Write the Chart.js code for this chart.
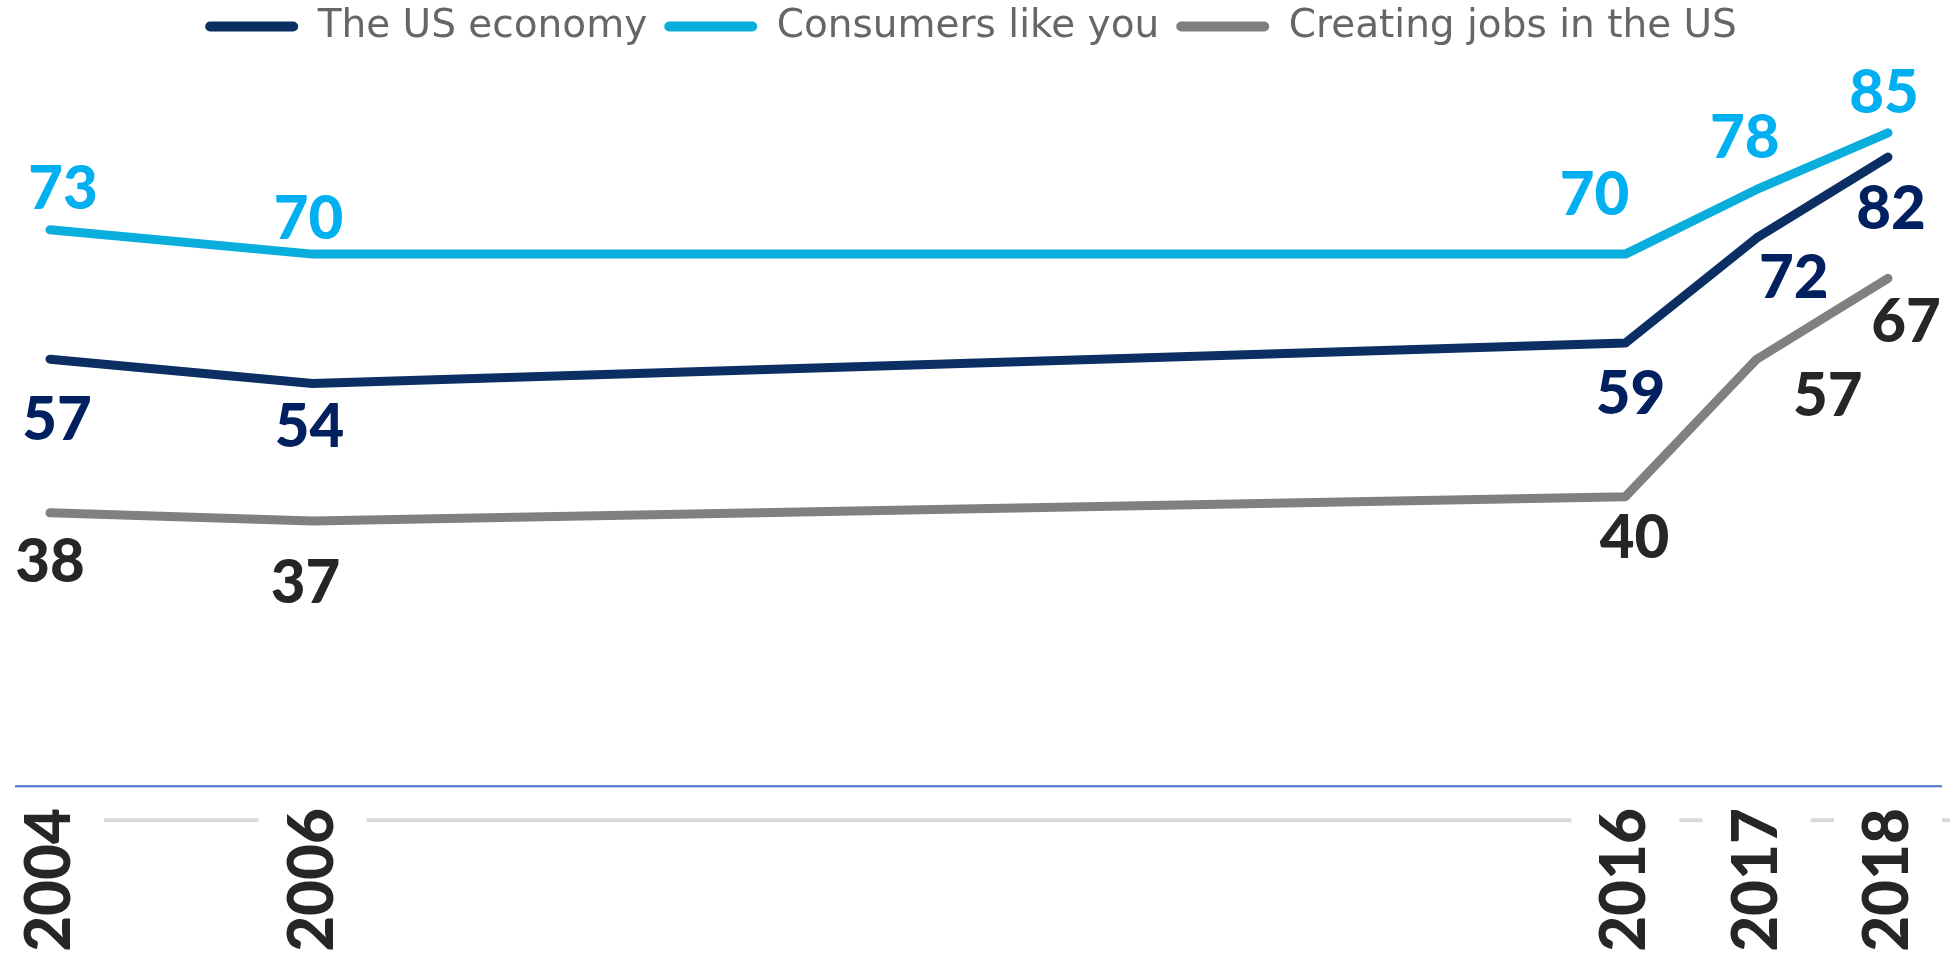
<!DOCTYPE html>
<html><head><meta charset="utf-8">
<script src="https://cdn.jsdelivr.net/npm/chart.js@4.4.1/dist/chart.umd.min.js"></script>
<style>html,body{margin:0;padding:0;background:#fff;} canvas{display:block;}</style>
</head><body>
<canvas id="c" width="1950" height="955"></canvas>
<script>
// ---- data ----
const years = [2004, 2006, 2016, 2017, 2018];
const seriesNames = ['The US economy', 'Consumers like you', 'Creating jobs in the US'];
const usEconomy = [57, 54, 59, 72, 82];
const consumers = [73, 70, 70, 78, 85];
const jobs = [38, 37, 40, 57, 67];
const yRange = [1.5, 94.5];

// ---- styles ----
const lineColors = ['#0b2f62', '#0aaedc', '#808080'];
const labelColors = ['#002060', '#00b0f0', '#262626'];
// label centre offsets from each point (px)
const labelOffsets = [
  [[7, 59], [-3, 42], [5, 49], [37, 38], [3, 50]],
  [[13, -42], [-4, -37], [-31, -61], [-12, -53], [-4, -41]],
  [[0, 48], [-7, 60], [9, 40], [71, 35], [18, 42]]
];
const valueFontSize = 60;

const seriesValues = [usEconomy, consumers, jobs];
const datasets = seriesValues.map((vals, i) => ({
  label: seriesNames[i],
  data: vals.map((v, j) => ({x: years[j], y: v})),
  borderColor: lineColors[i],
  backgroundColor: lineColors[i],
  borderWidth: 9,
  borderCapStyle: 'round',
  borderJoinStyle: 'round',
  pointRadius: 0,
  tension: 0,
  clip: false
}));

const baseline = {
  id: 'baseline',
  beforeDraw(chart) {
    const {ctx} = chart;
    const yp = chart.scales.y.getPixelForValue(0);
    ctx.save();
    ctx.strokeStyle = '#d9d9d9';
    ctx.lineWidth = 4;
    ctx.beginPath(); ctx.moveTo(0, yp); ctx.lineTo(chart.width, yp); ctx.stroke();
    ctx.restore();
  }
};
const rule = {
  id: 'rule',
  afterDraw(chart) {
    const {ctx} = chart;
    const yp = chart.scales.y.getPixelForValue(0) - 34;
    ctx.save();
    ctx.strokeStyle = '#4472c4';
    ctx.lineWidth = 2;
    ctx.beginPath(); ctx.moveTo(15, yp); ctx.lineTo(chart.width - 8, yp); ctx.stroke();
    ctx.restore();
  }
};
const valueLabels = {
  id: 'valueLabels',
  afterDatasetsDraw(chart) {
    const {ctx} = chart;
    ctx.save();
    ctx.font = '900 ' + valueFontSize + 'px Lato';
    ctx.textAlign = 'center';
    ctx.textBaseline = 'alphabetic';
    chart.data.datasets.forEach((ds, di) => {
      const meta = chart.getDatasetMeta(di);
      ctx.fillStyle = labelColors[di];
      meta.data.forEach((pt, i) => {
        const [dx, dy] = labelOffsets[di][i];
        ctx.fillText(String(ds.data[i].y), pt.x + dx, pt.y + dy + 0.36 * valueFontSize);
      });
    });
    ctx.restore();
  }
};

new Chart(document.getElementById('c'), {
  type: 'line',
  data: {datasets},
  options: {
    responsive: false,
    animation: false,
    devicePixelRatio: 1,
    layout: {padding: {left: 50, right: 58, top: -10, bottom: 0}},
    plugins: {
      tooltip: {enabled: false},
      legend: {
        position: 'top',
        labels: {
          boxWidth: 93,
          boxHeight: 10,
          padding: 17,
          color: '#666666',
          font: {family: 'DejaVu Sans', size: 39},
          generateLabels(chart) {
            return Chart.defaults.plugins.legend.labels.generateLabels(chart).map(l =>
              Object.assign(l, {fillStyle: l.strokeStyle, lineWidth: 0, borderRadius: 5, fontColor: '#666666'}));
          }
        }
      }
    },
    scales: {
      x: {
        type: 'linear',
        min: years[0],
        max: years[years.length - 1],
        afterBuildTicks: s => { s.ticks = years.map(v => ({value: v})); },
        afterFit: s => { s.height = 147; },
        grid: {display: false, drawTicks: false},
        border: {display: false},
        ticks: {
          autoSkip: false,
          minRotation: 90,
          maxRotation: 90,
          padding: 0,
          labelOffset: -31,
          color: '#262626',
          font: {family: 'Lato', weight: '900', size: 62, lineHeight: 1},
          showLabelBackdrop: true,
          backdropColor: '#ffffff',
          backdropPadding: {top: 23, bottom: 23, left: 4, right: 2},
          callback: v => String(v)
        }
      },
      y: {
        display: false,
        min: yRange[0],
        max: yRange[1]
      }
    }
  },
  plugins: [baseline, valueLabels, rule]
});
</script>
</body></html>
